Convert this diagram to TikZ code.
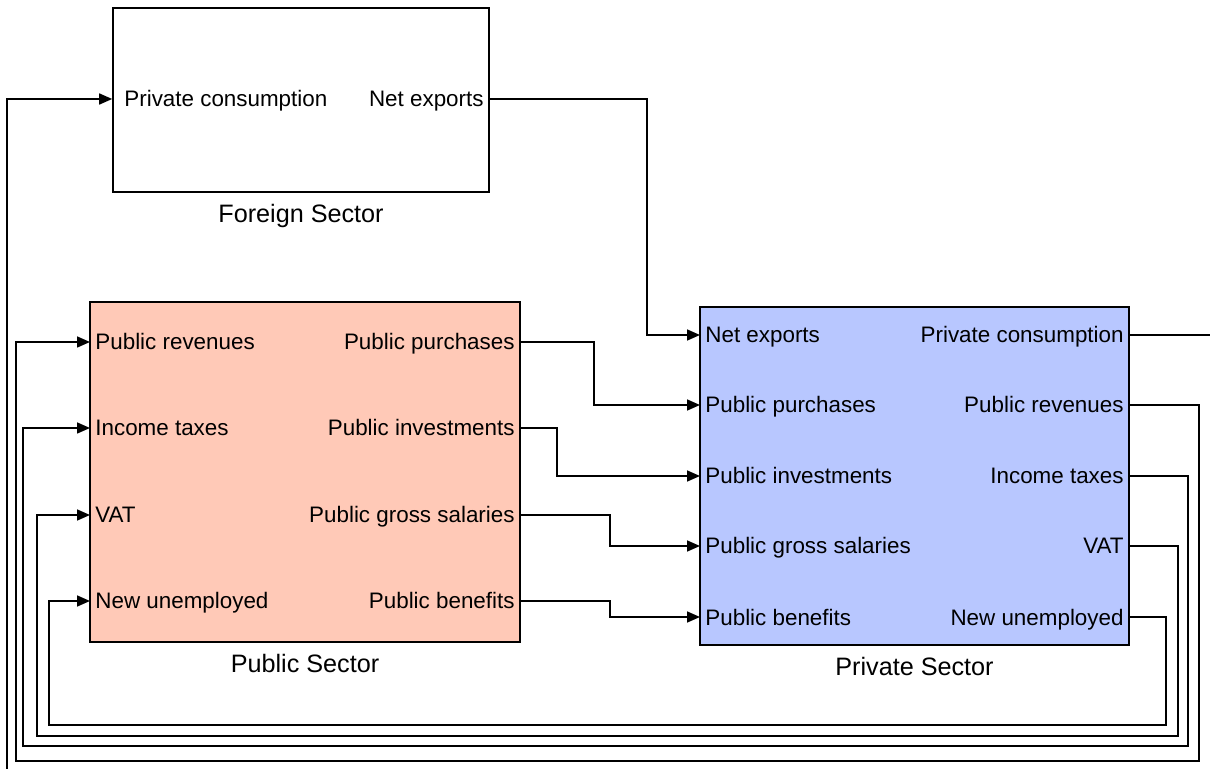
\documentclass[tikz,border=0pt]{standalone}
\usepackage{fontspec}
\setmainfont{Liberation Sans}
\usetikzlibrary{arrows.meta,positioning}
\definecolor{publicred}{RGB}{255,201,183}
\definecolor{privateblue}{RGB}{184,199,255}

\begin{document}
\begin{tikzpicture}[x=0.5pt,y=-0.5pt,
    block/.style={draw, line width=0.8pt, minimum width=#1},
    inport/.style={anchor=west, inner sep=2.5pt, text height=8pt, text depth=0pt, font=\fontsize{11.2}{13}\selectfont},
    outport/.style={anchor=east, inner sep=2.5pt, text height=8pt, text depth=0pt, font=\fontsize{11.2}{13}\selectfont},
    title/.style={font=\fontsize{12.6}{15}\selectfont},
    flow/.style={line width=0.8pt, -{Triangle[length=6.5pt,width=5.5pt]}}]
	\clip (0,0) rectangle (1210,769);

	% Draw the three sectors
	\node[block=188pt, minimum height=92pt] (foreign) at (301,100) {};
	\node[block=215pt, minimum height=170pt, fill=publicred] (public) at (305,472) {};
	\node[block=214.5pt, minimum height=169pt, fill=privateblue] (private) at (914.5,476) {};

	\node[title, below=2pt of foreign] {Foreign Sector};
	\node[title, below=2pt of public] {Public Sector};
	\node[title, below=2pt of private] {Private Sector};

	% Foreign sector ports
	\node[inport] (fIn) at (119,99) {Private consumption};
	\node[outport] (fOut) at (489,99) {Net exports};

	% Public sector ports
	\node[inport] (puIn1) at (90,342) {Public revenues};
	\node[inport] (puIn2) at (90,428) {Income taxes};
	\node[inport] (puIn3) at (90,515) {VAT};
	\node[inport] (puIn4) at (90,601) {New unemployed};
	\node[outport] (puOut1) at (520,342) {Public purchases};
	\node[outport] (puOut2) at (520,428) {Public investments};
	\node[outport] (puOut3) at (520,515) {Public gross salaries};
	\node[outport] (puOut4) at (520,601) {Public benefits};

	% Private sector ports
	\node[inport] (prIn1) at (700,335) {Net exports};
	\node[inport] (prIn2) at (700,405) {Public purchases};
	\node[inport] (prIn3) at (700,476) {Public investments};
	\node[inport] (prIn4) at (700,546) {Public gross salaries};
	\node[inport] (prIn5) at (700,617) {Public benefits};
	\node[outport] (prOut1) at (1129,335) {Private consumption};
	\node[outport] (prOut2) at (1129,405) {Public revenues};
	\node[outport] (prOut3) at (1129,476) {Income taxes};
	\node[outport] (prOut4) at (1129,546) {VAT};
	\node[outport] (prOut5) at (1129,617) {New unemployed};

	% Draw connections
	\draw[flow] (fOut.east) -- ++(158,0) |- (prIn1.west);
	\draw[flow] (puOut1.east) -- ++(74,0) |- (prIn2.west);
	\draw[flow] (puOut2.east) -- ++(37,0) |- (prIn3.west);
	\draw[flow] (puOut3.east) -- ++(90,0) |- (prIn4.west);
	\draw[flow] (puOut4.east) -- ++(90,0) |- (prIn5.west);

	% Draw feedback loops
	\draw[flow] (prOut2.east) -- ++(70,0) |- (16,761) |- (puIn1.west);
	\draw[flow] (prOut3.east) -- ++(59,0) |- (23,746) |- (puIn2.west);
	\draw[flow] (prOut4.east) -- ++(49,0) |- (37,736) |- (puIn3.west);
	\draw[flow] (prOut5.east) -- ++(37,0) |- (49,725) |- (puIn4.west);
	\draw[flow] (prOut1.east) -- ++(120,0) |- (7,820) |- (foreign.west |- fIn);
\end{tikzpicture}
\end{document}
